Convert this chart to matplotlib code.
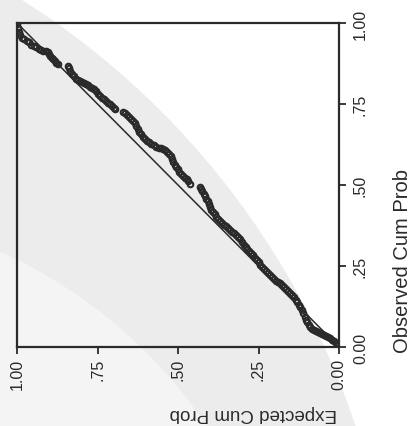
import matplotlib
matplotlib.use("Agg")
import matplotlib.pyplot as plt
from matplotlib.patches import Circle
from matplotlib.transforms import IdentityTransform

plt.rcParams["font.family"] = ["Liberation Sans", "DejaVu Sans"]

# P-P plot (page scanned rotated): x = expected cum prob, y = observed cum prob
expected = [
    1.000, 0.996, 0.993, 0.990, 0.985, 0.978, 0.970, 0.962, 0.955, 0.948,
    0.940, 0.932, 0.925, 0.918, 0.911, 0.905, 0.900, 0.896, 0.891, 0.887,
    0.883, 0.878, 0.873,
    0.842, 0.838, 0.834, 0.829, 0.823, 0.817, 0.810, 0.804, 0.798, 0.791,
    0.785, 0.779, 0.773, 0.767, 0.761, 0.755, 0.749, 0.742, 0.736, 0.730,
    0.724, 0.717, 0.711, 0.705, 0.700, 0.696,
    0.671, 0.665, 0.658, 0.651, 0.645, 0.640, 0.635, 0.630, 0.625, 0.620,
    0.615, 0.610, 0.604, 0.597, 0.590, 0.583, 0.575, 0.567, 0.560, 0.553,
    0.546, 0.540, 0.533, 0.528, 0.523, 0.519, 0.515, 0.510, 0.506, 0.501,
    0.496, 0.491, 0.485, 0.479, 0.473, 0.468, 0.463,
    0.433, 0.429, 0.425, 0.420, 0.416, 0.412, 0.408, 0.404, 0.400, 0.396,
    0.391, 0.386, 0.381, 0.376, 0.370, 0.363, 0.357, 0.351, 0.345, 0.339,
    0.333, 0.327, 0.320, 0.314, 0.308, 0.301, 0.295, 0.290, 0.286, 0.280,
    0.274, 0.268, 0.262, 0.256, 0.250, 0.244, 0.238, 0.232, 0.226, 0.220,
    0.214, 0.208, 0.202, 0.196, 0.189, 0.183, 0.177, 0.171, 0.165, 0.159,
    0.153, 0.146, 0.140, 0.135, 0.130, 0.125, 0.120, 0.115, 0.111, 0.106,
    0.102, 0.098, 0.094, 0.090, 0.084, 0.077, 0.071, 0.065, 0.059, 0.053,
    0.047, 0.040, 0.034, 0.028, 0.022, 0.016, 0.009, 0.003,
]
observed = [
    0.997, 0.985, 0.972, 0.962, 0.955, 0.950, 0.945, 0.940, 0.933, 0.929,
    0.925, 0.920, 0.916, 0.914, 0.913, 0.910, 0.904, 0.898, 0.893, 0.888,
    0.883, 0.878, 0.873,
    0.868, 0.860, 0.852, 0.843, 0.836, 0.828, 0.824, 0.821, 0.818, 0.815,
    0.811, 0.808, 0.802, 0.798, 0.795, 0.789, 0.782, 0.775, 0.770, 0.764,
    0.759, 0.754, 0.749, 0.744, 0.739, 0.735,
    0.725, 0.721, 0.716, 0.710, 0.704, 0.697, 0.690, 0.681, 0.673, 0.665,
    0.656, 0.648, 0.642, 0.637, 0.632, 0.627, 0.622, 0.618, 0.615, 0.613,
    0.611, 0.608, 0.603, 0.597, 0.589, 0.580, 0.571, 0.563, 0.556, 0.548,
    0.541, 0.534, 0.528, 0.522, 0.517, 0.511, 0.503,
    0.494, 0.487, 0.480, 0.473, 0.466, 0.458, 0.450, 0.442, 0.433, 0.424,
    0.416, 0.409, 0.402, 0.395, 0.389, 0.383, 0.377, 0.372, 0.367, 0.361,
    0.356, 0.351, 0.346, 0.339, 0.332, 0.324, 0.316, 0.308, 0.302, 0.295,
    0.289, 0.283, 0.276, 0.269, 0.262, 0.254, 0.246, 0.240, 0.234, 0.228,
    0.222, 0.216, 0.210, 0.205, 0.201, 0.197, 0.192, 0.186, 0.179, 0.173,
    0.167, 0.160, 0.153, 0.146, 0.139, 0.131, 0.124, 0.114, 0.104, 0.092,
    0.084, 0.076, 0.069, 0.062, 0.057, 0.053, 0.050, 0.046, 0.043, 0.040,
    0.037, 0.034, 0.031, 0.027, 0.023, 0.019, 0.012, 0.006,
]
ticks = [0.0, 0.25, 0.5, 0.75, 1.0]
tick_labels = ["0.00", ".25", ".50", ".75", "1.00"]

ink = "#2a2a2a"

fig = plt.figure(figsize=(4.12, 4.27), dpi=100)
fig.patch.set_facecolor("white")

# grey seal watermark from the scan (pixel coords, origin bottom-left)
fig.patches.append(Circle((-409, -255), 806, transform=IdentityTransform(),
                          facecolor="#ececec", edgecolor="none", zorder=-2))
fig.patches.append(Circle((-200, -273), 490, transform=IdentityTransform(),
                          facecolor="#f4f4f4", edgecolor="none", zorder=-1))

ax = fig.add_axes([17 / 412, 1 - 348 / 427, 322 / 412, 324 / 427])
ax.set_zorder(2)
ax.set_facecolor("none")

ax.plot([0, 1], [0, 1], color=ink, lw=1.1, zorder=2)
ax.plot(expected, observed, ls="none", marker="o", ms=4.0, mfc="none",
        mec=ink, mew=1.5, zorder=3)

ax.set_xlim(1, 0)
ax.set_ylim(0, 1)

ax.yaxis.tick_right()
ax.set_xticks(ticks)
ax.set_xticklabels(tick_labels, rotation=90, fontsize=11.5, color=ink)
ax.set_yticks(ticks)
ax.set_yticklabels(tick_labels, rotation=90, fontsize=11.5, color=ink, va="center")
ax.tick_params(axis="both", direction="out", length=5, width=1.3, colors=ink,
               labelcolor=ink)
ax.tick_params(axis="x", pad=3)
ax.tick_params(axis="y", pad=5)

for s in ax.spines.values():
    s.set_color(ink)
    s.set_linewidth(1.6)

fig.text(253 / 412, 1 - 414 / 427, "Expected Cum Prob", rotation=180,
         ha="center", va="center", fontsize=13.5, color=ink, zorder=3)
fig.text(402 / 412, 1 - 261 / 427, "Observed Cum Prob", rotation=90,
         ha="center", va="center", fontsize=14.5, color=ink, zorder=3)

fig.savefig("out.png", dpi=100, facecolor=fig.get_facecolor())
